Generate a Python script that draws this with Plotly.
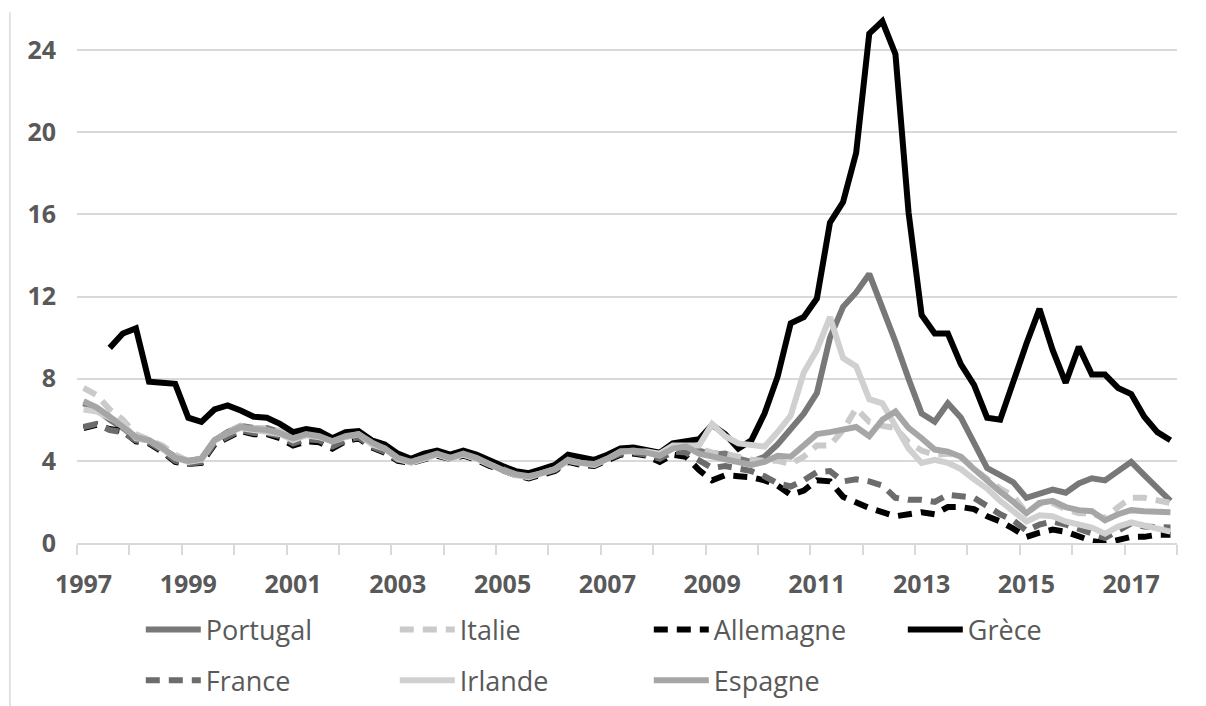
import plotly.graph_objects as go

# Quarterly periods 1997Q1 .. 2017Q4
years = list(range(1997, 2018))
quarters = [1, 2, 3, 4]

portugal = [6.8, 6.5, 6.0, 5.6, 5.1, 5.0, 4.6, 4.2, 4.0, 4.1, 5.0, 5.4,
            5.7, 5.6, 5.6, 5.4, 5.1, 5.3, 5.2, 4.95, 5.25, 5.35, 4.9, 4.65,
            4.15, 3.95, 4.2, 4.4, 4.2, 4.4, 4.2, 3.9, 3.6, 3.35, 3.25, 3.45,
            3.65, 4.1, 3.95, 3.9, 4.15, 4.45, 4.55, 4.45, 4.35, 4.75, 4.8, 4.5,
            4.3, 4.35, 4.1, 3.95, 4.2, 4.8, 5.6, 6.3, 7.3, 10.0, 11.5, 12.2,
            13.1, 11.5, 9.8, 8.0, 6.3, 5.9, 6.8, 6.1, 4.9, 3.65, 3.3, 2.95,
            2.2, 2.4, 2.6, 2.45, 2.9, 3.15, 3.05, 3.5, 3.95, 3.3, 2.65, 2.05]

italie = [7.55, 7.2, 6.5, 6.0, 5.3, 5.0, 4.75, 4.3, 4.0, 4.1, 5.0, 5.4,
          5.7, 5.6, 5.6, 5.45, 5.15, 5.3, 5.25, 5.0, 5.25, 5.4, 4.95, 4.75,
          4.25, 4.0, 4.25, 4.45, 4.3, 4.45, 4.25, 3.95, 3.7, 3.45, 3.35, 3.55,
          3.8, 4.2, 4.05, 3.95, 4.2, 4.5, 4.6, 4.5, 4.4, 4.8, 4.9, 4.6,
          4.4, 4.35, 4.2, 4.05, 4.0, 4.0, 3.85, 4.2, 4.75, 4.75, 5.5, 6.55,
          5.9, 5.7, 5.6, 4.9, 4.5, 4.3, 4.35, 4.2, 3.6, 3.15, 2.65, 2.3,
          1.45, 1.9, 1.95, 1.65, 1.45, 1.45, 1.2, 1.75, 2.2, 2.2, 2.1, 1.95]

allemagne = [5.6, 5.75, 5.55, 5.45, 4.95, 4.85, 4.45, 3.95, 3.85, 3.9, 4.8, 5.15,
             5.45, 5.3, 5.3, 5.1, 4.75, 4.95, 4.9, 4.6, 4.95, 5.1, 4.65, 4.4,
             4.0, 3.9, 4.05, 4.25, 4.1, 4.25, 4.05, 3.75, 3.55, 3.3, 3.15, 3.3,
             3.5, 3.95, 3.8, 3.75, 4.0, 4.3, 4.35, 4.25, 3.95, 4.3, 4.2, 3.55,
             3.05, 3.3, 3.25, 3.2, 3.05, 2.8, 2.35, 2.55, 3.05, 3.0, 2.25, 1.95,
             1.7, 1.5, 1.3, 1.4, 1.5, 1.4, 1.75, 1.75, 1.65, 1.3, 1.05, 0.7,
             0.3, 0.5, 0.65, 0.55, 0.3, 0.1, 0.0, 0.15, 0.3, 0.3, 0.4, 0.4]

grece = [None, None, 9.5, 10.2, 10.45, 7.85, 7.8, 7.75, 6.1, 5.9, 6.5, 6.7,
         6.45, 6.15, 6.1, 5.8, 5.4, 5.55, 5.45, 5.1, 5.4, 5.45, 5.0, 4.8,
         4.35, 4.1, 4.35, 4.5, 4.3, 4.5, 4.3, 4.0, 3.75, 3.5, 3.4, 3.6,
         3.8, 4.3, 4.15, 4.05, 4.3, 4.6, 4.65, 4.55, 4.4, 4.85, 4.95, 5.05,
         5.75, 5.3, 4.6, 5.0, 6.3, 8.1, 10.7, 11.0, 11.9, 15.6, 16.6, 19.0,
         24.8, 25.4, 23.8, 16.1, 11.1, 10.2, 10.2, 8.7, 7.7, 6.1, 6.0, 7.9,
         9.7, 11.4, 9.4, 7.8, 9.55, 8.2, 8.2, 7.55, 7.25, 6.15, 5.4, 5.0]

france = [5.65, 5.8, 5.5, 5.4, 5.0, 4.9, 4.5, 4.0, 3.85, 3.95, 4.85, 5.2,
          5.5, 5.35, 5.35, 5.2, 4.85, 5.05, 5.0, 4.7, 5.0, 5.15, 4.7, 4.45,
          4.05, 3.95, 4.1, 4.3, 4.15, 4.3, 4.1, 3.8, 3.6, 3.35, 3.2, 3.35,
          3.55, 4.0, 3.85, 3.8, 4.05, 4.35, 4.4, 4.3, 4.1, 4.45, 4.4, 4.05,
          3.65, 3.75, 3.6, 3.5, 3.25, 2.9, 2.75, 3.05, 3.45, 3.5, 3.0, 3.1,
          3.0, 2.8, 2.2, 2.1, 2.1, 2.0, 2.35, 2.3, 2.2, 1.8, 1.4, 1.1,
          0.6, 0.9, 1.05, 0.9, 0.7, 0.5, 0.25, 0.6, 0.95, 0.8, 0.75, 0.75]

irlande = [6.5, 6.4, 6.1, 5.8, 5.1, 5.0, 4.6, 4.15, 3.95, 4.05, 5.0, 5.35,
           5.6, 5.5, 5.45, 5.3, 5.0, 5.25, 5.15, 4.95, 5.15, 5.3, 4.8, 4.6,
           4.1, 3.9, 4.1, 4.3, 4.1, 4.3, 4.1, 3.8, 3.55, 3.3, 3.2, 3.4,
           3.6, 4.0, 3.9, 3.8, 4.1, 4.45, 4.45, 4.45, 4.35, 4.75, 4.75, 4.75,
           5.8, 5.2, 4.85, 4.75, 4.7, 5.4, 6.2, 8.3, 9.4, 11.0, 9.0, 8.6,
           7.0, 6.8, 5.65, 4.6, 3.9, 4.05, 3.9, 3.6, 3.1, 2.65, 2.05, 1.55,
           1.05, 1.35, 1.3, 1.05, 0.9, 0.75, 0.45, 0.8, 1.0, 0.85, 0.65, 0.55]

espagne = [6.9, 6.6, 6.15, 5.65, 5.15, 5.0, 4.65, 4.15, 4.0, 4.1, 5.0, 5.35,
           5.65, 5.55, 5.5, 5.35, 5.1, 5.3, 5.2, 4.95, 5.2, 5.3, 4.9, 4.6,
           4.15, 3.95, 4.15, 4.35, 4.15, 4.35, 4.15, 3.85, 3.55, 3.35, 3.25, 3.4,
           3.6, 4.05, 3.9, 3.85, 4.1, 4.45, 4.5, 4.4, 4.25, 4.6, 4.7, 4.35,
           4.2, 4.1, 3.95, 3.8, 3.95, 4.25, 4.2, 4.8, 5.3, 5.4, 5.5, 5.65,
           5.2, 6.0, 6.4, 5.6, 5.1, 4.55, 4.45, 4.2, 3.6, 3.0, 2.5, 2.0,
           1.45, 1.95, 2.05, 1.75, 1.6, 1.55, 1.1, 1.4, 1.6, 1.55, 1.55, 1.5]

label_years = list(range(1997, 2018, 2))
tick_years = list(range(1997, 2019))

# category centres (one category per quarter)
x = [y + (q - 1) * 0.25 + 0.125 for y in years for q in quarters]

series = [
    ("Portugal", portugal, "#787878", "solid", "legend"),
    ("Italie", italie, "#cacaca", "14px,9px", "legend"),
    ("Allemagne", allemagne, "#000000", "14px,9px", "legend"),
    ("Grèce", grece, "#000000", "solid", "legend"),
    ("France", france, "#6c6c6c", "14px,9px", "legend2"),
    ("Irlande", irlande, "#d0d0d0", "solid", "legend2"),
    ("Espagne", espagne, "#a6a6a6", "solid", "legend2"),
]

fig = go.Figure()
for name, vals, color, dash, leg in series:
    fig.add_trace(go.Scatter(
        x=x, y=vals, name=name, mode="lines", legend=leg,
        line=dict(color=color, width=6, dash=dash),
        connectgaps=False,
    ))

legend_common = dict(
    orientation="h", xanchor="left", yanchor="middle",
    font=dict(family="Open Sans", size=27, color="#595959"),
    entrywidth=184, entrywidthmode="pixels",
    itemwidth=55, bgcolor="rgba(0,0,0,0)",
)

tick_font = dict(family="Open Sans", size=25, color="#595959", weight="bold")

fig.update_layout(
    width=1206, height=706,
    paper_bgcolor="white", plot_bgcolor="white",
    margin=dict(l=69, r=37, t=1, b=171),
    showlegend=True,
    legend=dict(x=0.058, y=-0.163, **legend_common),
    legend2=dict(x=0.058, y=-0.258, **legend_common),
    xaxis=dict(
        range=[1997, 2018],
        tickmode="array",
        tickvals=[y + 0.125 for y in label_years],
        ticktext=[str(y) for y in label_years],
        ticks="",
        ticklabelstandoff=18,
        showgrid=False, zeroline=False,
        showline=True, linecolor="#d9d9d9", linewidth=1.5,
        tickfont=tick_font,
        minor=dict(tickmode="array", tickvals=tick_years, ticks="outside",
                   ticklen=10, tickwidth=1.5, tickcolor="#d9d9d9", showgrid=False),
    ),
    yaxis=dict(
        range=[0, 26],
        tickmode="array", tickvals=[0, 4, 8, 12, 16, 20, 24],
        showgrid=True, gridcolor="#d9d9d9", gridwidth=1.5,
        zeroline=False, showline=False, ticks="",
        ticklabelstandoff=20,
        tickfont=tick_font,
    ),
    shapes=[dict(type="line", xref="paper", yref="paper",
                 x0=-0.061, x1=-0.061, y0=0.994, y1=-0.31,
                 line=dict(color="#d9d9d9", width=1.5))],
)

fig.write_html("out.html")
